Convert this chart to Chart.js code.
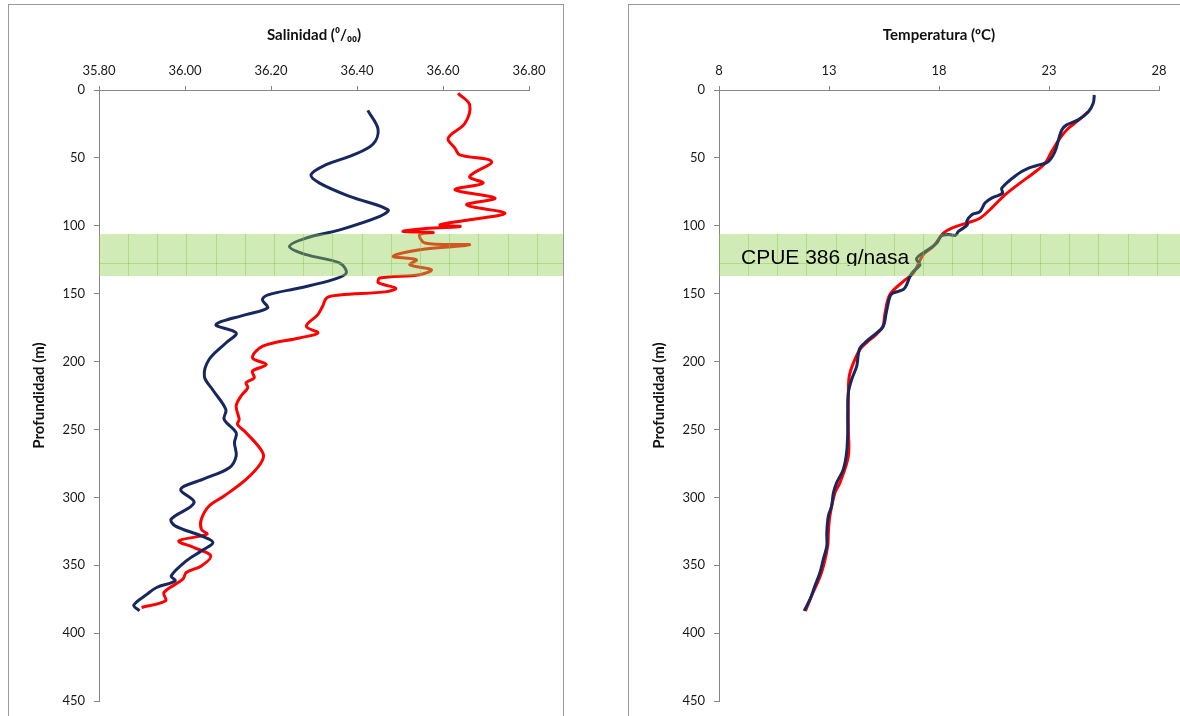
<!DOCTYPE html>
<html>
<head>
<meta charset="utf-8">
<script src="https://cdn.jsdelivr.net/npm/chart.js@4.4.1/dist/chart.umd.min.js"></script>
<style>
    html, body { margin: 0; padding: 0; background: #fff; width: 1180px; height: 716px; overflow: hidden; position: relative; }
    .panel { position: absolute; top: 4px; border: 1px solid #9a9a9a; background: #fff; }
    #panel-sal { left: 8px; width: 554px; height: 730px; }
    #panel-temp { left: 628px; width: 580px; height: 730px; }
    canvas { position: absolute; left: 0; top: 0; }
</style>
</head>
<body>
<div class="panel" id="panel-sal"><canvas id="salChart" width="554" height="730"></canvas></div>
<div class="panel" id="panel-temp"><canvas id="tempChart" width="580" height="730"></canvas></div>
<script>
// ---- data ----
const depthTicks = [0, 50, 100, 150, 200, 250, 300, 350, 400, 450];
const salinityTicks = [35.8, 36.0, 36.2, 36.4, 36.6, 36.8];
const tempTicks = [8, 13, 18, 23, 28];

// green band (depth range, m) and its label
const bandDepth = [106, 137];
const bandLabel = 'CPUE 386 g/nasa';
const bandLabelAt = [9.0, 128]; // temperature, depth

// salinity, blue profile
const salBlueDepth = [15, 29, 40, 48, 55, 62.5, 68.6, 78.4, 88.2, 93.1, 103, 109, 115.2, 121.3, 127.5, 134.8, 139.7, 145.8, 150.7,
    154.4, 160.5, 165.4, 172.8, 178.9, 186.3, 198.5, 210.8, 220.6, 235.3, 242.6, 252.4, 259.8, 269.6, 278.2, 286.8,
    294, 304, 316, 321, 328.4, 333.3, 339.5, 346.8, 357.8, 361.5, 366.4, 371.3, 379.4, 383.6];
const salBlueValue = [36.425, 36.449, 36.437, 36.390, 36.328, 36.293, 36.313, 36.383, 36.472, 36.453, 36.360, 36.282, 36.243, 36.282, 36.360, 36.375, 36.344, 36.266, 36.195,
    36.180, 36.192, 36.142, 36.072, 36.119, 36.095, 36.056, 36.045, 36.064, 36.095, 36.091, 36.119, 36.115, 36.119, 36.103, 36.041,
    35.990, 36.021, 35.968, 35.977, 36.038, 36.065, 36.038, 36.003, 35.968, 35.977, 35.934, 35.912, 35.881, 35.894];

// salinity, red profile
const salRedDepth = [2.5, 11, 24.5, 35.5, 42.9, 47.8, 52.7, 63.7, 68.6, 73.5, 79.6, 84.6, 90.7, 95.6, 99.3, 100.5, 102, 104.2, 105, 106.6,
    112.7, 114, 117.6, 122.5, 125, 128.7, 132.4, 136, 138.5, 142, 146, 148.5, 151, 153, 159.3, 165.4, 174, 178.9, 182.6, 188.7,
    197.3, 202.2, 207, 212, 215.7, 219.3, 225.5, 232.9, 242.6, 246.3, 252.4, 267.2, 274.5, 286.8, 299, 306.4, 316.2, 323.5,
    327.2, 332.1, 337, 343.1, 350.5, 355.4, 360.3, 370.1, 376.2, 381.1];
const salRedValue = [36.635, 36.662, 36.651, 36.612, 36.628, 36.639, 36.713, 36.662, 36.693, 36.628, 36.721, 36.655, 36.744, 36.662, 36.593, 36.640, 36.560, 36.507, 36.577, 36.546,
    36.558, 36.662, 36.546, 36.484, 36.538, 36.523, 36.573, 36.546, 36.453, 36.450, 36.490, 36.470, 36.360, 36.330, 36.320, 36.309, 36.282, 36.309, 36.266, 36.181,
    36.157, 36.189, 36.157, 36.161, 36.142, 36.146, 36.130, 36.119, 36.126, 36.122, 36.142, 36.181, 36.177, 36.142, 36.091, 36.056, 36.038, 36.038,
    36.051, 35.986, 36.021, 36.060, 36.038, 36.003, 35.995, 35.951, 35.955, 35.899];

// temperature, blue profile
const tempBlueDepth = [3.7, 9.8, 16, 22, 25.7, 29.4, 36.8, 45.4, 52.7, 55, 57.6, 62.5, 72.3, 76, 79.6, 83.3, 89.5, 91.9, 96.8, 99.3,
    104.2, 107, 106.5, 107.5, 112.7, 117.6, 122.5, 125, 128.7, 133.6, 137.3, 143.4, 147, 149.5, 152, 164.2, 174, 178.9, 185, 189.9,
    194.9, 203.4, 213.2, 223, 237.7, 252.4, 267.2, 279.4, 289.2, 296.6, 306.4, 313.7, 326, 335.8, 345.6, 355.4, 365.2, 375, 383.6];
const tempBlueValue = [25.06, 25.01, 24.79, 24.33, 23.80, 23.58, 23.43, 23.27, 22.97, 22.59, 22.07, 21.53, 20.85, 20.89, 20.39, 20.09, 19.86, 19.49, 19.26, 19.29,
    18.88, 18.75, 18.40, 18.10, 17.90, 17.50, 17.06, 16.98, 17.14, 16.83, 16.68, 16.53, 16.38, 15.92, 15.77, 15.60, 15.47, 15.17, 14.71, 14.41,
    14.33, 14.26, 14.03, 13.88, 13.85, 13.85, 13.80, 13.65, 13.35, 13.20, 13.12, 12.97, 12.90, 12.90, 12.74, 12.59, 12.36, 12.14, 11.87];

// temperature, red profile
const tempRedDepth = [16, 23.3, 28.2, 35.5, 45.4, 53.9, 61.3, 68.6, 77.2, 87, 94.4, 98, 101.7, 105.4, 115.2, 121.3, 134.8, 140.9, 150.7, 164.2,
    174, 180, 186, 191, 201, 210.8, 223, 250, 269.6, 289.2, 296.6, 313.7, 326, 336, 355.4, 372.5, 383.6];
const tempRedValue = [24.79, 24.26, 23.88, 23.50, 23.12, 22.82, 22.29, 21.68, 21.00, 20.39, 19.86, 19.26, 18.58, 18.20, 17.74, 17.29, 16.83, 16.38, 15.77, 15.55,
    15.45, 15.15, 14.71, 14.41, 14.11, 13.92, 13.88, 13.88, 13.88, 13.50, 13.27, 13.04, 12.97, 12.94, 12.66, 12.21, 11.93];

const NAVY = '#17275f';
const RED = '#ff0000';
const AXIS = '#868686';

const toPoints = (xs, ys) => xs.map((v, i) => ({ x: v, y: ys[i] }));

// green band over the lines, with its faint grid texture
const bandPlugin = {
    id: 'band',
    afterDatasetsDraw(chart, args, opts) {
        const { ctx, chartArea, scales } = chart;
        const y = scales.y;
        const top = y.getPixelForValue(bandDepth[0]);
        const bottom = y.getPixelForValue(bandDepth[1]);
        const left = chartArea.left;
        const right = chart.width;
        ctx.save();
        ctx.fillStyle = 'rgba(146, 208, 80, 0.42)';
        ctx.fillRect(left, top, right - left, bottom - top);
        ctx.strokeStyle = 'rgba(130, 200, 70, 0.45)';
        ctx.lineWidth = 1;
        ctx.beginPath();
        for (let x = left + 29; x < right; x += 29.2) {
            ctx.moveTo(Math.round(x) + 0.5, top);
            ctx.lineTo(Math.round(x) + 0.5, bottom);
        }
        const my = Math.round(top + 29) + 0.5;
        ctx.moveTo(left, my);
        ctx.lineTo(right, my);
        ctx.stroke();

        if (opts.label) {
            const tx = scales.x.getPixelForValue(bandLabelAt[0]);
            const ty = y.getPixelForValue(bandLabelAt[1]);
            ctx.beginPath();
            ctx.rect(left, top, right - left, ty + 2 - top);
            ctx.clip();
            ctx.fillStyle = '#000';
            ctx.font = '21px "Liberation Sans", Arial, sans-serif';
            ctx.textBaseline = 'alphabetic';
            ctx.textAlign = 'left';
            ctx.fillText(bandLabel, tx, ty);
        }
        ctx.restore();
    }
};

const depthAxis = {
    type: 'linear',
    reverse: true,
    min: 0,
    max: 450,
    afterFit: (s) => { s.width = 90; },
    afterBuildTicks: (s) => { s.ticks = depthTicks.map(v => ({ value: v })); },
    grid: { drawOnChartArea: false, drawTicks: true, tickLength: 5, color: AXIS },
    border: { display: true, color: AXIS, width: 1 },
    ticks: { padding: 9, color: '#1a1a1a', font: { family: 'Lato', size: 13 } },
    title: { display: true, text: 'Profundidad (m)', color: '#111', padding: { top: 21, bottom: 0 },
             font: { family: 'Lato', size: 15, weight: 'bold' } }
};

function topAxis(min, max, tickList, titleText, fmt) {
    return {
        type: 'linear',
        position: 'top',
        min: min,
        max: max,
        afterFit: (s) => { s.height = 85; },
        afterBuildTicks: (s) => { s.ticks = tickList.map(v => ({ value: v })); },
        grid: { drawOnChartArea: false, drawTicks: true, tickLength: 4, color: AXIS },
        border: { display: true, color: AXIS, width: 1 },
        ticks: { padding: 7, maxRotation: 0, color: '#1a1a1a', font: { family: 'Lato', size: 13 }, callback: fmt },
        title: { display: true, text: titleText, color: '#111', padding: { top: 21, bottom: 0 },
                 font: { family: 'Lato', size: 15, weight: 'bold' } }
    };
}

function lineSet(points, color) {
    return {
        data: points,
        showLine: true,
        borderColor: color,
        backgroundColor: color,
        borderWidth: 3,
        pointRadius: 0,
        tension: 0.35,
        fill: false
    };
}

const baseOptions = (xAxis, rightPad, withLabel) => ({
    responsive: false,
    animation: false,
    devicePixelRatio: 1,
    layout: { padding: { left: 0, top: 0, right: rightPad, bottom: 34 } },
    scales: { x: xAxis, y: depthAxis },
    plugins: {
        legend: { display: false },
        tooltip: { enabled: false },
        band: { label: withLabel }
    }
});

new Chart(document.getElementById('salChart'), {
    type: 'scatter',
    data: {
        datasets: [
            lineSet(toPoints(salBlueValue, salBlueDepth), NAVY),
            lineSet(toPoints(salRedValue, salRedDepth), RED)
        ]
    },
    options: baseOptions(topAxis(35.8, 36.8, salinityTicks, 'Salinidad (\u2070/\u2080\u2080)', v => v.toFixed(2)), 34, false),
    plugins: [bandPlugin]
});

new Chart(document.getElementById('tempChart'), {
    type: 'scatter',
    data: {
        datasets: [
            lineSet(toPoints(tempBlueValue, tempBlueDepth), NAVY),
            lineSet(toPoints(tempRedValue, tempRedDepth), RED)
        ]
    },
    options: baseOptions(topAxis(8, 28, tempTicks, 'Temperatura (\u00baC)', v => String(v)), 50, true),
    plugins: [bandPlugin]
});
</script>
</body>
</html>
